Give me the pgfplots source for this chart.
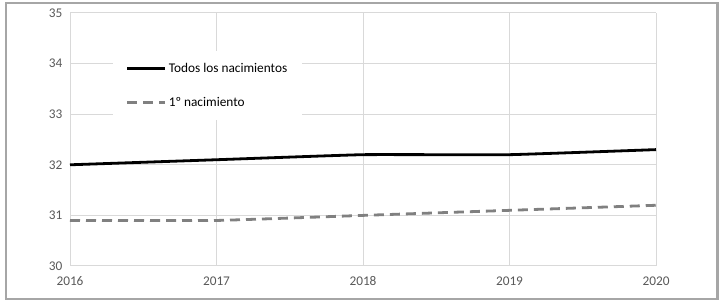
\documentclass[border=0pt]{standalone}
\usepackage{pgfplots}
\pgfplotsset{compat=1.18}
\usepackage{fontspec}
\setmainfont{Carlito}
\definecolor{gridc}{HTML}{D9D9D9}
\definecolor{tickc}{HTML}{595959}
\definecolor{dashc}{HTML}{808080}
\definecolor{framec}{HTML}{A6A6A6}
\begin{document}
\begin{tikzpicture}[x=1pt,y=1pt]
\useasboundingbox (0,0) rectangle (724,302);
\draw[framec, line width=2.5pt] (6,3) rectangle (717.5,299);
\begin{axis}[
  at={(70pt,36pt)}, anchor=south west,
  scale only axis, width=586pt, height=253pt,
  xmin=2016, xmax=2020, ymin=30, ymax=35,
  xtick={2016,2017,2018,2019,2020},
  ytick={30,31,32,33,34,35},
  xticklabel style={/pgf/number format/1000 sep={}},
  /pgf/number format/assume math mode=true,
  grid=major, major grid style={gridc, line width=1pt},
  axis x line*=bottom, axis y line*=left,
  x axis line style={gridc, line width=1pt, -},
  y axis line style={draw=none},
  tick style={draw=none},
  ticklabel style={font=\fontsize{13.3}{15}\selectfont, text=tickc},
  yticklabel style={xshift=-4pt},
  xticklabel style={yshift=-7pt},
  clip=false,
  legend style={at={(0.073,0.85)}, anchor=north west, draw=none, fill=white,
    font=\fontsize{13.3}{15}\selectfont, inner xsep=13pt, inner ysep=10pt,
    row sep=19pt, cells={anchor=west}},
  legend image code/.code={\draw[#1] (0pt,0pt) -- (38pt,0pt);},
]
\addplot[black, line width=2.8pt, smooth, tension=0.2] coordinates {
(2016,32.0) (2017,32.1) (2018,32.2) (2019,32.2) (2020,32.3)};
\addlegendentry{Todos los nacimientos}
\addplot[dashc, line width=2.8pt, dash pattern=on 10pt off 6pt, smooth, tension=0.2] coordinates {
(2016,30.9) (2017,30.9) (2018,31.0) (2019,31.1) (2020,31.2)};
\addlegendentry{1º nacimiento}
\end{axis}
\end{tikzpicture}
\end{document}
